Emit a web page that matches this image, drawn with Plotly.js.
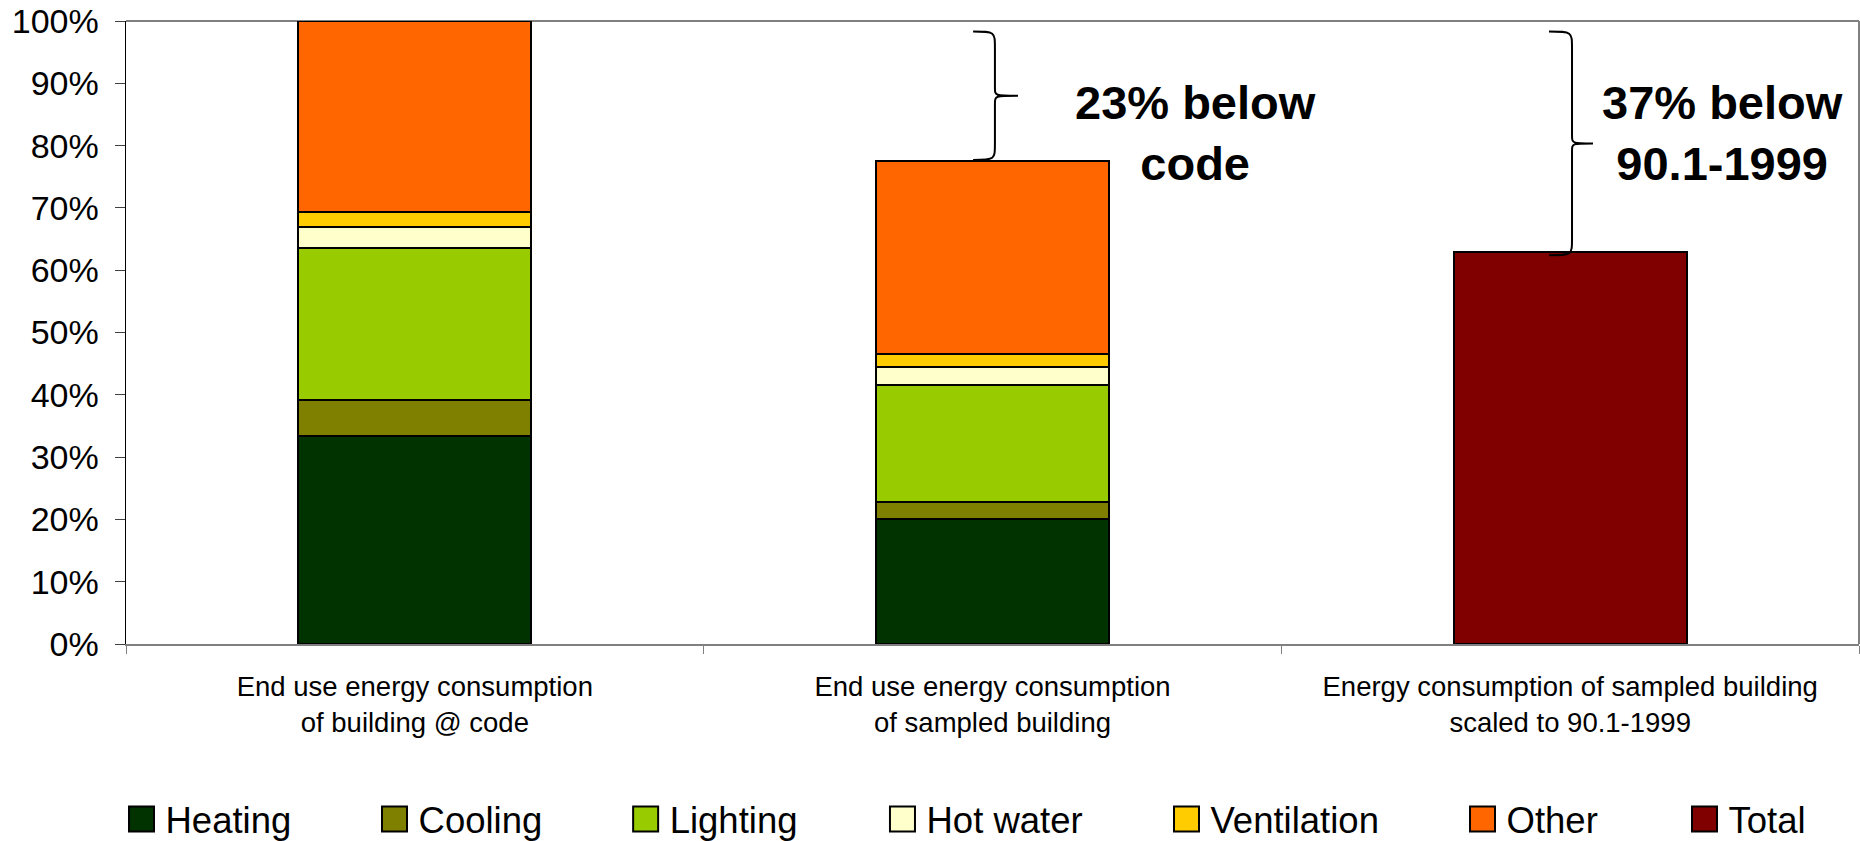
<!DOCTYPE html>
<html>
<head>
<meta charset="utf-8">
<script src="https://cdn.plot.ly/plotly-3.0.1.min.js"></script>
<style>
  html, body { margin: 0; padding: 0; background: #ffffff; }
  #chart { width: 1860px; height: 841px; }
</style>
</head>
<body>
<div id="chart"></div>
<script>
// ---- Data ----
const categories = [
  'End use energy consumption<br>of building @ code',
  'End use energy consumption<br>of sampled building',
  'Energy consumption of sampled building<br>scaled to 90.1-1999'
];
const seriesNames  = ['Heating', 'Cooling', 'Lighting', 'Hot water', 'Ventilation', 'Other', 'Total'];
const seriesColors = ['#003300', '#808000', '#99CC00', '#FFFFCC', '#FFCC00', '#FF6600', '#800000'];

const heating     = [33.4, 20.0, null];
const cooling     = [5.7, 2.8, null];
const lighting    = [24.5, 18.7, null];
const hotWater    = [3.3, 3.0, null];
const ventilation = [2.5, 2.0, null];
const other       = [30.6, 31.0, null];
const total       = [null, null, 63.0];

const yTickVals   = [0, 10, 20, 30, 40, 50, 60, 70, 80, 90, 100];
const yTickText   = ['0%', '10%', '20%', '30%', '40%', '50%', '60%', '70%', '80%', '90%', '100%'];
const annotationTexts = ['<b>23% below<br>code</b>', '<b>37% below<br>90.1-1999</b>'];

// ---- Build traces ----
const seriesValues = [heating, cooling, lighting, hotWater, ventilation, other, total];
const legendIds = ['legend', 'legend2', 'legend3', 'legend4', 'legend5', 'legend6', 'legend7'];
const FONT = 'Liberation Sans, Arial, Helvetica, sans-serif';

const traces = seriesValues.map((vals, i) => ({
  type: 'bar',
  name: seriesNames[i],
  x: categories,
  y: vals,
  marker: { color: seriesColors[i], line: { color: '#000000', width: 2 } },
  legend: legendIds[i],
  hoverinfo: 'name+y'
}));

// bar totals (stack tops) used for brace ends
const stackTop = categories.map((c, j) => seriesValues.reduce((s, arr) => s + (arr[j] || 0), 0));

// ---- Layout ----
const legendX = [-0.0049, 0.1411, 0.2860, 0.4342, 0.5981, 0.7689, 0.8970];
const layout = {
  width: 1860,
  height: 841,
  margin: { l: 126, r: 1, t: 21, b: 197, autoexpand: false },
  paper_bgcolor: '#ffffff',
  plot_bgcolor: '#ffffff',
  barmode: 'stack',
  bargap: 0.597,
  font: { family: FONT, color: '#000000' },
  showlegend: true,
  xaxis: {
    type: 'category',
    tickson: 'boundaries',
    ticks: 'outside',
    ticklen: 8,
    tickcolor: '#808080',
    tickwidth: 1,
    showline: true,
    linecolor: '#808080',
    linewidth: 2,
    showgrid: false,
    zeroline: false,
    tickfont: { family: FONT, size: 27.5, color: '#000000' },
    ticklabelstandoff: 17
  },
  yaxis: {
    range: [0, 100],
    tickmode: 'array',
    tickvals: yTickVals,
    ticktext: yTickText,
    ticks: 'outside',
    ticklen: 10,
    tickcolor: '#404040',
    tickwidth: 1,
    showline: true,
    linecolor: '#000000',
    linewidth: 1.5,
    showgrid: false,
    zeroline: false,
    tickfont: { family: FONT, size: 34, color: '#000000' },
    ticklabelstandoff: 9
  },
  shapes: [
    // gray plot-area frame: top and right edges
    { type: 'line', xref: 'paper', yref: 'paper', x0: 0, x1: 1, y0: 1, y1: 1,
      line: { color: '#808080', width: 2 }, layer: 'below' },
    { type: 'line', xref: 'paper', yref: 'paper', x0: 1, x1: 1, y0: 0, y1: 1,
      line: { color: '#808080', width: 2 }, layer: 'below' }
  ],
  annotations: [
    { text: annotationTexts[0], xref: 'paper', yref: 'y', x: 0.6169, y: 82.0,
      xanchor: 'center', yanchor: 'middle', showarrow: false,
      font: { family: FONT, size: 47, color: '#000000' } },
    { text: annotationTexts[1], xref: 'paper', yref: 'y', x: 0.9213, y: 82.0,
      xanchor: 'center', yanchor: 'middle', showarrow: false,
      font: { family: FONT, size: 47, color: '#000000' } }
  ]
};

// legends: one per series so each entry sits where it does in the reference
legendIds.forEach((id, i) => {
  layout[id] = {
    orientation: 'h',
    x: legendX[i], xanchor: 'left',
    y: -0.2812, yanchor: 'middle',
    bgcolor: 'rgba(0,0,0,0)',
    borderwidth: 0,
    itemwidth: 38,
    font: { family: FONT, size: 36.5, color: '#000000' }
  };
});

// curly braces showing the savings gaps
function bracePath(xe, xs, xt, yTop, yBot, r1, r2) {
  const yMid = (yTop + yBot) / 2;
  return 'M' + xe + ',' + yTop +
    ' C' + xs + ',' + yTop + ' ' + xs + ',' + yTop + ' ' + xs + ',' + (yTop - r1) +
    ' L' + xs + ',' + (yMid + r2) +
    ' C' + xs + ',' + yMid + ' ' + xs + ',' + yMid + ' ' + xt + ',' + yMid +
    ' C' + xs + ',' + yMid + ' ' + xs + ',' + yMid + ' ' + xs + ',' + (yMid - r2) +
    ' L' + xs + ',' + (yBot + r1) +
    ' C' + xs + ',' + yBot + ' ' + xs + ',' + yBot + ' ' + xe + ',' + yBot;
}
const braceTop = 98.3;
layout.shapes.push({
  type: 'path', xref: 'paper', yref: 'y',
  path: bracePath(0.4888, 0.5014, 0.5147, braceTop, stackTop[1] + 0.2, 2.7, 1.3),
  line: { color: '#000000', width: 2 }
});
layout.shapes.push({
  type: 'path', xref: 'paper', yref: 'y',
  path: bracePath(0.8211, 0.8344, 0.8465, braceTop, stackTop[2] - 0.6, 2.7, 1.3),
  line: { color: '#000000', width: 2 }
});

Plotly.newPlot('chart', traces, layout, { displayModeBar: false, staticPlot: true }).then(function () {
  // enlarge the legend swatches to match the reference's square keys
  document.querySelectorAll('.legendpoints path').forEach(function (p) {
    p.setAttribute('d', 'M12.5,12.5H-12.5V-12.5H12.5Z');
  });
});
</script>
</body>
</html>
